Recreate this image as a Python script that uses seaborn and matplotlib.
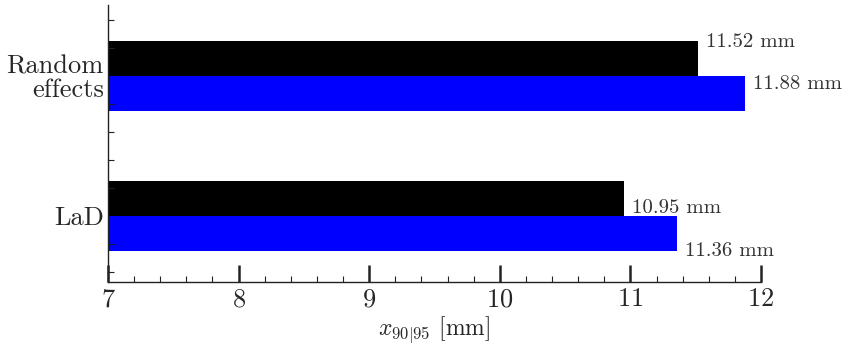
import numpy as np
import pandas as pd
import matplotlib
matplotlib.use("Agg")
import matplotlib.pyplot as plt
from matplotlib.ticker import MultipleLocator, FixedLocator
import seaborn as sns

# data
methods = ["Random\neffects", "LaD"]
series = ["Series 1", "Series 2"]
vals_s1 = [11.52, 10.95]
vals_s2 = [11.88, 11.36]
colors = ["#000000", "#0000ff"]

df = pd.DataFrame({
    "method": methods * 2,
    "series": [series[0]] * 2 + [series[1]] * 2,
    "value": vals_s1 + vals_s2,
})

sns.set_style("ticks")
plt.rcParams["font.family"] = ["cmr10", "DejaVu Serif"]
plt.rcParams["mathtext.fontset"] = "cm"
plt.rcParams["axes.formatter.use_mathtext"] = True

fig = plt.figure(figsize=(8.43, 3.47), dpi=100)
ax = fig.add_axes([108 / 843, 1 - 282 / 347, (761 - 108) / 843, 277 / 347])

sns.barplot(data=df, x="value", y="method", hue="series", orient="h",
            palette=colors, saturation=1, width=0.5, dodge=True,
            legend=False, linewidth=0, ax=ax)

ax.set_axisbelow(False)
ax.set_xlim(7, 12)
ax.set_ylim(1.471, -0.507)
ax.xaxis.set_major_locator(MultipleLocator(1))
ax.xaxis.set_minor_locator(MultipleLocator(0.2))
ax.yaxis.set_minor_locator(FixedLocator(np.arange(-0.4, 1.45, 0.2)))

ax.tick_params(axis="x", which="major", direction="in", length=12, width=1.8,
               labelsize=19, pad=4, color="#222222")
ax.tick_params(axis="x", which="minor", direction="in", length=4, width=0.8,
               color="#222222")
ax.tick_params(axis="y", which="major", length=0, labelsize=19, pad=3)
ax.tick_params(axis="y", which="minor", direction="in", length=4, width=0.8,
               color="#222222")

for lab in ax.get_yticklabels():
    lab.set_horizontalalignment("right")
    lab.set_linespacing(1.0)

sns.despine(ax=ax)
for s in ["left", "bottom"]:
    ax.spines[s].set_linewidth(1.0)
    ax.spines[s].set_color("#222222")

ax.set_xlabel(r"$x_{90|95}$ [mm]", fontsize=17, labelpad=2)
ax.set_ylabel("")

# value labels
offsets_px = {(0, 0): -16, (0, 1): -9, (1, 0): 10, (1, 1): 17}
for j, vals in enumerate([vals_s1, vals_s2]):
    for i, v in enumerate(vals):
        ypos = i + (-0.125 if j == 0 else 0.125)
        ax.annotate(f"{v:.2f} mm", xy=(v, ypos), xytext=(8 * 0.72, -offsets_px[(i, j)] * 0.72),
                    textcoords="offset points", ha="left", va="center",
                    fontsize=15, color="#333333", annotation_clip=False)

fig.savefig("out.png", dpi=100)
